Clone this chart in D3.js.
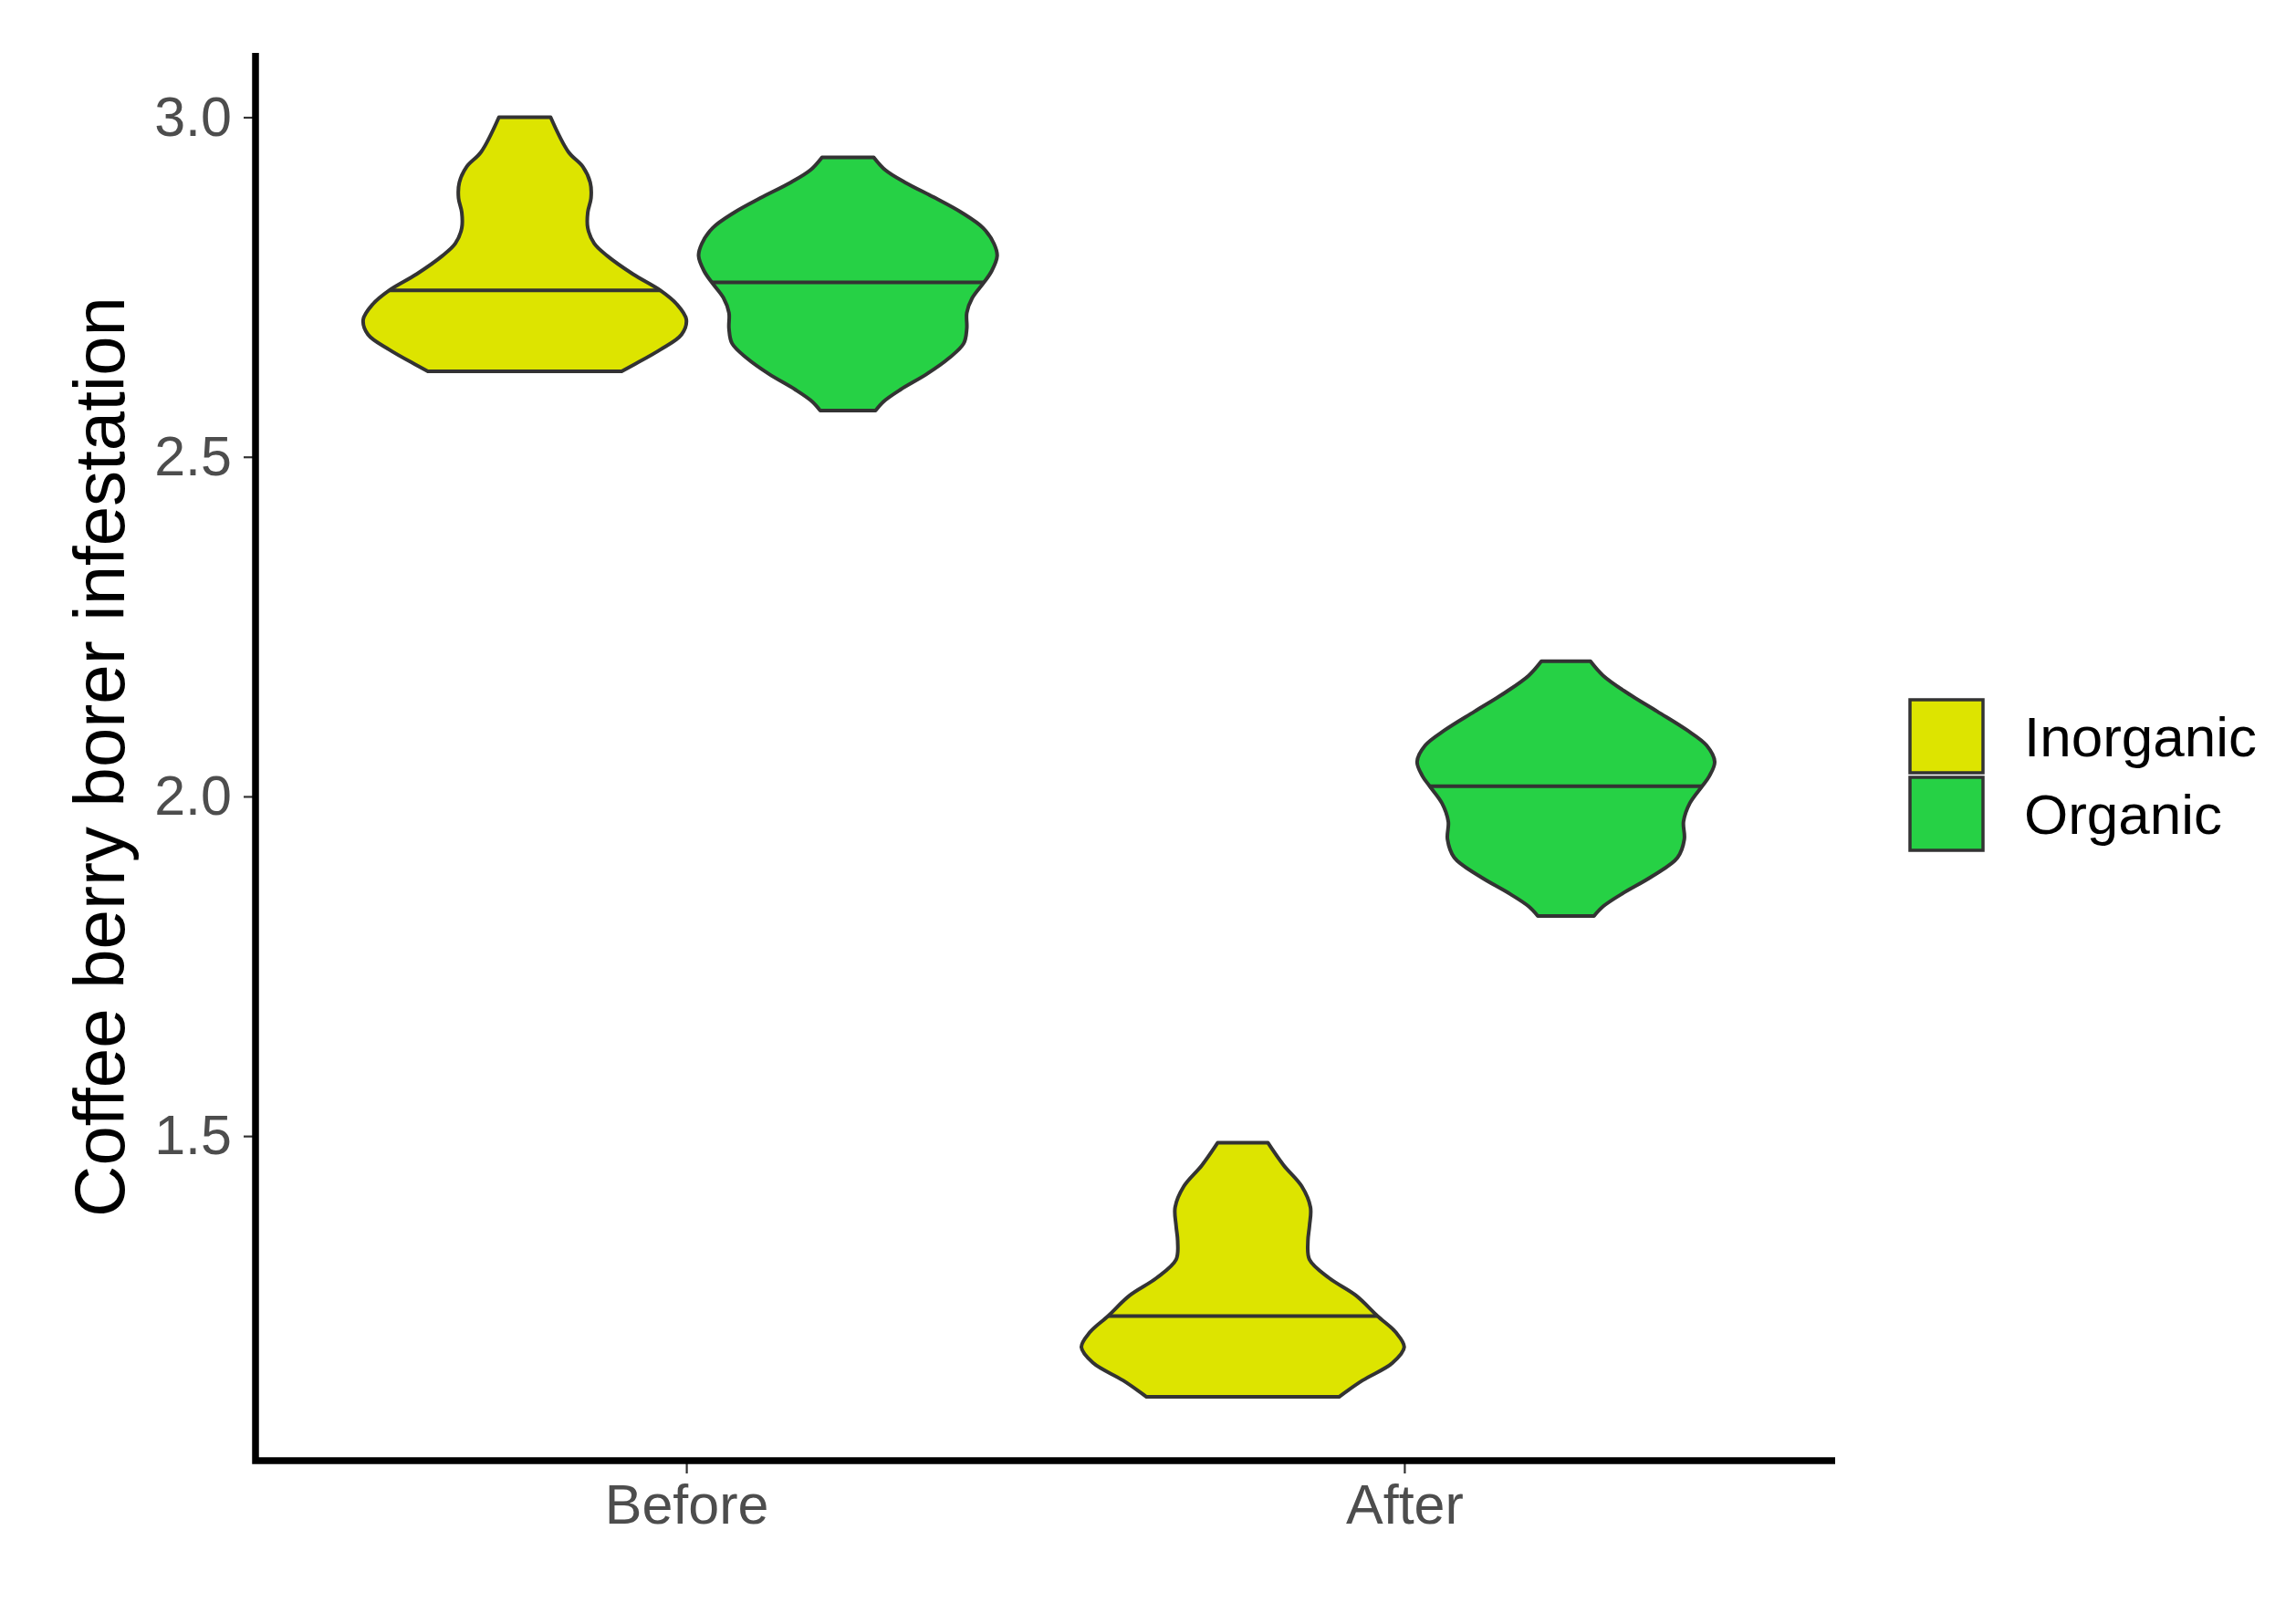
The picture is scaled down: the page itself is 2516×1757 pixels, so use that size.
<!DOCTYPE html>
<html>
<head>
<meta charset="utf-8">
<script src="https://cdn.jsdelivr.net/npm/d3@7"></script>
<style>
  body { margin: 0; background: #fff; }
  svg text { font-family: "Liberation Sans", Arial, sans-serif; }
  .tick-label { fill: #4d4d4d; font-size: 61px; }
  .axis-title { fill: #000; font-size: 78px; }
  .legend-label { fill: #000; font-size: 62px; }
</style>
</head>
<body>
<svg id="chart"></svg>
<script>
// periods on the x axis, treatments as dodged groups
const periods = ['Before', 'After'];
const treatments = ['Inorganic', 'Organic'];
const yTicks = [1.5, 2.0, 2.5, 3.0];

// violin outlines: [infestation value, relative density]
const inorganicBefore = [
  [3.000, 0.16], [2.949, 0.27], [2.927, 0.36], [2.904, 0.405], [2.881, 0.41],
  [2.860, 0.39], [2.837, 0.39], [2.814, 0.43], [2.796, 0.51], [2.769, 0.67],
  [2.745, 0.84], [2.725, 0.94], [2.702, 1.00], [2.680, 0.97], [2.658, 0.84],
  [2.635, 0.67], [2.626, 0.60]
];
const organicBefore = [
  [2.941, 0.16], [2.922, 0.233], [2.904, 0.354], [2.881, 0.542], [2.860, 0.702],
  [2.837, 0.837], [2.814, 0.904], [2.796, 0.924], [2.774, 0.891], [2.757, 0.843],
  [2.734, 0.77], [2.712, 0.736], [2.689, 0.736], [2.667, 0.717], [2.645, 0.624],
  [2.622, 0.489], [2.599, 0.326], [2.581, 0.219], [2.568, 0.171]
];
const inorganicAfter = [
  [1.490, 0.156], [1.457, 0.253], [1.426, 0.365], [1.395, 0.419], [1.368, 0.413],
  [1.345, 0.403], [1.318, 0.413], [1.291, 0.534], [1.265, 0.702], [1.235, 0.834],
  [1.211, 0.947], [1.189, 0.999], [1.166, 0.927], [1.140, 0.740], [1.116, 0.596]
];
const organicAfter = [
  [2.199, 0.152], [2.178, 0.23], [2.152, 0.382], [2.125, 0.566], [2.098, 0.747],
  [2.075, 0.871], [2.051, 0.921], [2.030, 0.888], [2.015, 0.843], [1.990, 0.767],
  [1.963, 0.728], [1.937, 0.733], [1.910, 0.691], [1.883, 0.538], [1.856, 0.343],
  [1.838, 0.23], [1.824, 0.174]
];

// medians (drawn as the 0.5 quantile line), order follows treatments
const mediansBefore = [2.745, 2.757];
const mediansAfter = [1.235, 2.015];

const fillColors = ['#dde400', '#26d145'];

class ViolinChart {

    constructor(_config) {
        this.config = {
            parentElement: _config.parentElement,
            containerWidth: _config.containerWidth || 2516,
            containerHeight: _config.containerHeight || 1757,
            margin: { top: 58, bottom: 156, right: 505, left: 280 }
        }
        this.initVis();
    }

    initVis() {
        let vis = this;

        vis.width = vis.config.containerWidth - vis.config.margin.left - vis.config.margin.right;
        vis.height = vis.config.containerHeight - vis.config.margin.top - vis.config.margin.bottom;

        vis.svg = d3.select(vis.config.parentElement)
            .attr('width', vis.config.containerWidth)
            .attr('height', vis.config.containerHeight);

        vis.chart = vis.svg.append('g')
            .attr('transform', `translate(${vis.config.margin.left}, ${vis.config.margin.top})`);

        // Scales (ggplot style expansion on both axes)
        vis.xScale = d3.scalePoint()
            .domain(periods)
            .range([0, vis.width])
            .padding(0.6);
        vis.yScale = d3.scaleLinear()
            .domain([1.022, 3.0947])
            .range([vis.height, 0]);
        vis.dodge = d3.scaleOrdinal().domain(treatments).range([-0.225, 0.225]);
        vis.colorScale = d3.scaleOrdinal().domain(treatments).range(fillColors);
        vis.widthScale = d3.scaleLinear().domain([0, 1]).range([0, vis.xScale.step() * 0.225]);

        vis.violins = [
            { period: 'Before', group: 'Inorganic', pts: inorganicBefore, median: mediansBefore[0] },
            { period: 'Before', group: 'Organic', pts: organicBefore, median: mediansBefore[1] },
            { period: 'After', group: 'Inorganic', pts: inorganicAfter, median: mediansAfter[0] },
            { period: 'After', group: 'Organic', pts: organicAfter, median: mediansAfter[1] }
        ];

        vis.renderVis();
    }

    renderVis() {
        let vis = this;
        const cx = d => vis.xScale(d.period) + vis.dodge(d.group) * vis.xScale.step();

        // density at a value, linear between the read points
        const densityAt = (pts, v) => {
            for (let i = 0; i < pts.length - 1; i++) {
                const a = pts[i], b = pts[i + 1];
                if (v <= a[0] && v >= b[0]) {
                    const t = (a[0] - v) / (a[0] - b[0]);
                    return a[1] + t * (b[1] - a[1]);
                }
            }
            return 0;
        };

        const g = vis.chart.selectAll('.violin')
            .data(vis.violins)
            .join('g')
            .attr('class', 'violin');

        g.append('path')
            .attr('d', d => d3.area()
                .curve(d3.curveCatmullRom.alpha(0.5))
                .y(p => vis.yScale(p[0]))
                .x0(p => cx(d) - vis.widthScale(p[1]))
                .x1(p => cx(d) + vis.widthScale(p[1]))(d.pts))
            .attr('fill', d => vis.colorScale(d.group))
            .attr('stroke', '#333333')
            .attr('stroke-width', 4)
            .attr('stroke-linejoin', 'round');

        g.append('line')
            .attr('x1', d => cx(d) - vis.widthScale(densityAt(d.pts, d.median)))
            .attr('x2', d => cx(d) + vis.widthScale(densityAt(d.pts, d.median)))
            .attr('y1', d => vis.yScale(d.median))
            .attr('y2', d => vis.yScale(d.median))
            .attr('stroke', '#333333')
            .attr('stroke-width', 4);

        // Axes
        vis.yAxis = d3.axisLeft(vis.yScale)
            .tickValues(yTicks)
            .tickFormat(d3.format('.1f'))
            .tickSize(13)
            .tickPadding(13)
            .tickSizeOuter(0);
        vis.xAxis = d3.axisBottom(vis.xScale)
            .tickSize(14)
            .tickPadding(12)
            .tickSizeOuter(0);

        const yg = vis.chart.append('g').attr('class', 'axis y-axis').call(vis.yAxis);
        const xg = vis.chart.append('g').attr('class', 'axis x-axis')
            .attr('transform', `translate(0,${vis.height})`)
            .call(vis.xAxis);

        [yg, xg].forEach(a => {
            a.select('.domain').remove();
            a.selectAll('.tick line').attr('stroke', '#333333').attr('stroke-width', 2.2);
            a.selectAll('.tick text').attr('class', 'tick-label').attr('font-size', null).attr('fill', null);
            a.attr('font-size', null).attr('font-family', null);
        });

        vis.chart.append('path')
            .attr('d', `M0,0 V${vis.height} H${vis.width}`)
            .attr('fill', 'none')
            .attr('stroke', '#000')
            .attr('stroke-width', 7.5)
            .attr('stroke-linejoin', 'miter');

        // Y axis title
        vis.svg.append('text')
            .attr('class', 'axis-title')
            .attr('text-anchor', 'middle')
            .attr('transform', `translate(136, ${vis.config.margin.top + vis.height / 2}) rotate(-90)`)
            .text('Coffee berry borer infestation');

        // Legend
        const key = 80;
        const legend = vis.svg.append('g')
            .attr('transform', 'translate(2093, 767)');
        const items = legend.selectAll('.legend-item')
            .data(treatments)
            .join('g')
            .attr('class', 'legend-item')
            .attr('transform', (d, i) => `translate(0, ${i * (key + 5)})`);
        items.append('rect')
            .attr('width', key)
            .attr('height', key)
            .attr('fill', d => vis.colorScale(d))
            .attr('stroke', '#333333')
            .attr('stroke-width', 3.5);
        items.append('text')
            .attr('class', 'legend-label')
            .attr('x', 125)
            .attr('y', key / 2)
            .attr('dy', '0.36em')
            .text(d => d);
    }
}

new ViolinChart({ parentElement: '#chart' });
</script>
</body>
</html>
